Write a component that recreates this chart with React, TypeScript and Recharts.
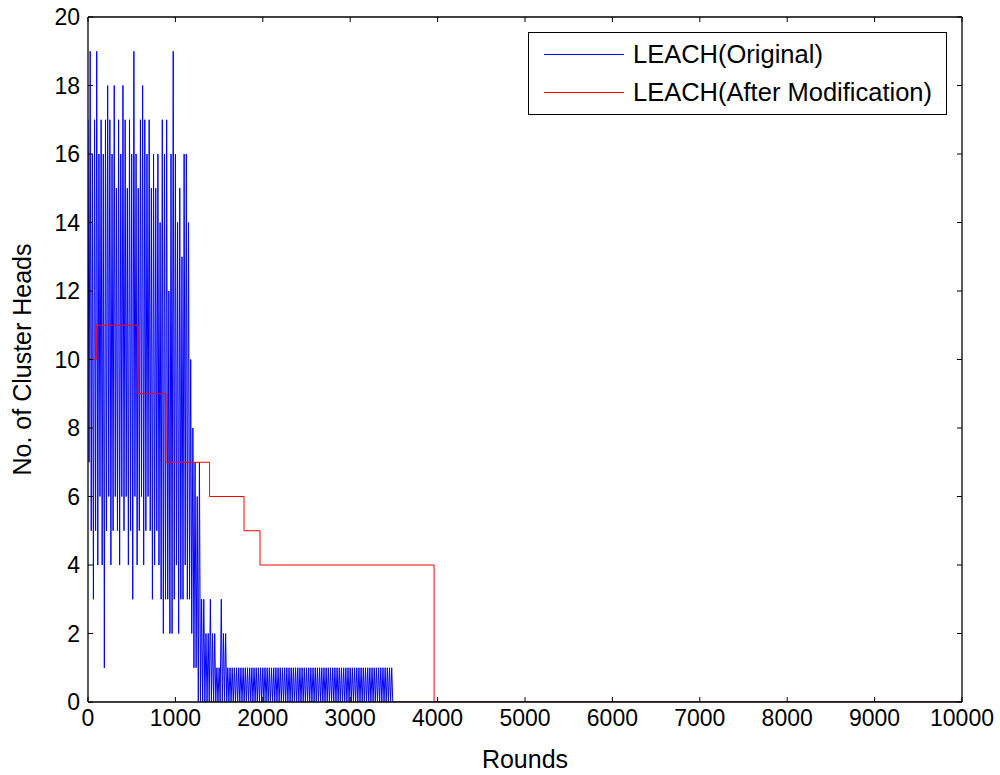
import React from "react";
import { LineChart, Line, XAxis, YAxis, Legend } from "recharts";

const FONT = '"Liberation Sans", Arial, sans-serif';

const roundTicks = [0, 1000, 2000, 3000, 4000, 5000, 6000, 7000, 8000, 9000, 10000];
const headTicks = [0, 2, 4, 6, 8, 10, 12, 14, 16, 18, 20];

// LEACH(Original): highest / lowest cluster head count in each 25-round bucket
const bucketRounds = 25;
const headPeaks = [
  17, 19, 16, 17, 19, 16, 17, 16, 17, 18,
  17, 16, 18, 15, 17, 16, 18, 17, 15, 17,
  16, 19, 16, 15, 17, 18, 17, 16, 17, 15,
  16, 15, 16, 14, 17, 16, 17, 12, 16, 19,
  16, 14, 15, 13, 16, 16, 14, 10, 8, 7,
  6, 7, 3, 3, 2, 2, 3, 2, 2, 1,
  1, 3, 2, 2,
];
const headTroughs = [
  7, 5, 3, 5, 4, 6, 4, 1, 5, 6,
  4, 5, 6, 5, 4, 6, 5, 6, 4, 5,
  3, 6, 4, 5, 6, 4, 5, 6, 5, 3,
  4, 5, 4, 3, 2, 3, 3, 2, 2, 3,
  4, 2, 3, 3, 4, 3, 3, 2, 1, 1,
  0, 0, 0, 0, 0, 0, 0, 0, 0, 0,
  0, 0, 0, 0,
];
// rounds 1600-3475: toggles between 1 and 0 cluster heads
const tailPeaks = [
  1, 1, 1, 1, 1, 1, 1, 1, 1, 1, 1, 1, 1, 1, 1, 1, 1, 1, 1, 1,
  1, 1, 1, 1, 1, 1, 1, 1, 1, 1, 1, 1, 1, 1, 1, 1, 1, 1, 1, 1,
  1, 1, 1, 1, 1, 1, 1, 1, 1, 1, 1, 1, 1, 1, 1, 1, 1, 1, 1, 1,
  1, 1, 1, 1, 1, 1, 1, 1, 1, 1, 1, 1, 1, 1, 1, 1,
];
const tailTroughs = [
  0, 0, 0, 0, 0, 0, 0, 0, 0, 0, 0, 0, 0, 0, 0, 0, 0, 0, 0, 0,
  0, 0, 0, 0, 0, 0, 0, 0, 0, 0, 0, 0, 0, 0, 0, 0, 0, 0, 0, 0,
  0, 0, 0, 0, 0, 0, 0, 0, 0, 0, 0, 0, 0, 0, 0, 0, 0, 0, 0, 0,
  0, 0, 0, 0, 0, 0, 0, 0, 0, 0, 0, 0, 0, 0, 0, 0,
];
const lastRound = 10000;

// LEACH(After Modification): step changes
const modRounds = [0, 95, 572, 892, 1391, 1785, 1968, 3960, 10000];
const modHeads = [10, 11, 9, 7, 6, 5, 4, 0, 0];

const seriesNames = ["LEACH(Original)", "LEACH(After Modification)"];
const seriesColors = ["#0000ff", "#ff0000"];

const peaks = [...headPeaks, ...tailPeaks];
const troughs = [...headTroughs, ...tailTroughs];
const originalData: { round: number; heads: number }[] = [];
peaks.forEach((p, i) => {
  originalData.push({ round: i * bucketRounds, heads: p });
  originalData.push({ round: i * bucketRounds + 12, heads: troughs[i] });
});
originalData.push({ round: lastRound, heads: 0 });

const modifiedData = modRounds.map((r, i) => ({ round: r, heads: modHeads[i] }));

const tickStyle = { fill: "#000", fontSize: 23, fontFamily: FONT };

const LegendBox = () => (
  <div
    style={{
      position: "relative",
      boxSizing: "border-box",
      width: 419,
      height: 83,
      border: "1px solid #000",
      background: "#fff",
      fontFamily: FONT,
      fontSize: 25.5,
      color: "#000",
    }}
  >
    {seriesNames.map((name, i) => (
      <div
        key={name}
        style={{
          position: "absolute",
          left: 15,
          top: 3 + i * 38,
          height: 36,
          display: "flex",
          alignItems: "center",
          whiteSpace: "nowrap",
        }}
      >
        <svg width={80} height={3} style={{ display: "block" }}>
          <line x1={0} x2={80} y1={1.5} y2={1.5} stroke={seriesColors[i]} strokeWidth={1} />
        </svg>
        <span style={{ marginLeft: 9 }}>{name}</span>
      </div>
    ))}
  </div>
);

const noLabel = () => <g />;

export default function App() {
  return (
    <>
      <style>{"body{margin:0;overflow:hidden}"}</style>
      <LineChart
        width={1000}
        height={775}
        margin={{ top: 16, right: 37, bottom: 33, left: 28 }}
      >
        <XAxis
          dataKey="round"
          type="number"
          domain={[0, 10000]}
          ticks={roundTicks}
          allowDataOverflow
          height={40}
          tickSize={-5}
          tickMargin={13}
          tick={tickStyle}
          stroke="#000"
          axisLine={{ stroke: "#000", strokeWidth: 1.3 }}
          tickLine={{ stroke: "#000" }}
          label={{
            value: "Rounds",
            position: "bottom",
            offset: 8,
            style: { fill: "#000", fontSize: 25, fontFamily: FONT },
          }}
        />
        <XAxis
          xAxisId="top"
          orientation="top"
          dataKey="round"
          type="number"
          domain={[0, 10000]}
          ticks={roundTicks}
          allowDataOverflow
          height={1}
          tickSize={-5}
          tick={noLabel}
          axisLine={{ stroke: "#000", strokeWidth: 1.3 }}
          tickLine={{ stroke: "#000" }}
        />
        <YAxis
          type="number"
          domain={[0, 20]}
          ticks={headTicks}
          allowDataOverflow
          width={60}
          tickSize={-5}
          tickMargin={13}
          tick={tickStyle}
          axisLine={{ stroke: "#000", strokeWidth: 1.3 }}
          tickLine={{ stroke: "#000" }}
          label={{
            position: "center",
            content: (props: any) => {
              const vb = props.viewBox;
              const cx = vb.x - 6;
              const cy = vb.y + vb.height / 2;
              return (
                <text
                  x={cx}
                  y={cy}
                  transform={`rotate(-90, ${cx}, ${cy})`}
                  textAnchor="middle"
                  dominantBaseline="central"
                  fill="#000"
                  fontSize={25}
                  fontFamily={FONT}
                >
                  No. of Cluster Heads
                </text>
              );
            },
          }}
        />
        <YAxis
          yAxisId="right"
          orientation="right"
          type="number"
          domain={[0, 20]}
          ticks={headTicks}
          allowDataOverflow
          width={1}
          tickSize={-5}
          tick={noLabel}
          axisLine={{ stroke: "#000", strokeWidth: 1.3 }}
          tickLine={{ stroke: "#000" }}
        />
        <Legend
          layout="horizontal"
          align="center"
          verticalAlign="middle"
          content={LegendBox}
          wrapperStyle={{ left: 528, top: 32, width: 419, height: 83 }}
        />
        <Line
          data={originalData}
          dataKey="heads"
          type="linear"
          stroke={seriesColors[0]}
          strokeWidth={1}
          dot={false}
          activeDot={false}
          isAnimationActive={false}
        />
        <Line
          data={modifiedData}
          dataKey="heads"
          type="stepAfter"
          stroke={seriesColors[1]}
          strokeWidth={1}
          dot={false}
          activeDot={false}
          isAnimationActive={false}
        />
      </LineChart>
    </>
  );
}
